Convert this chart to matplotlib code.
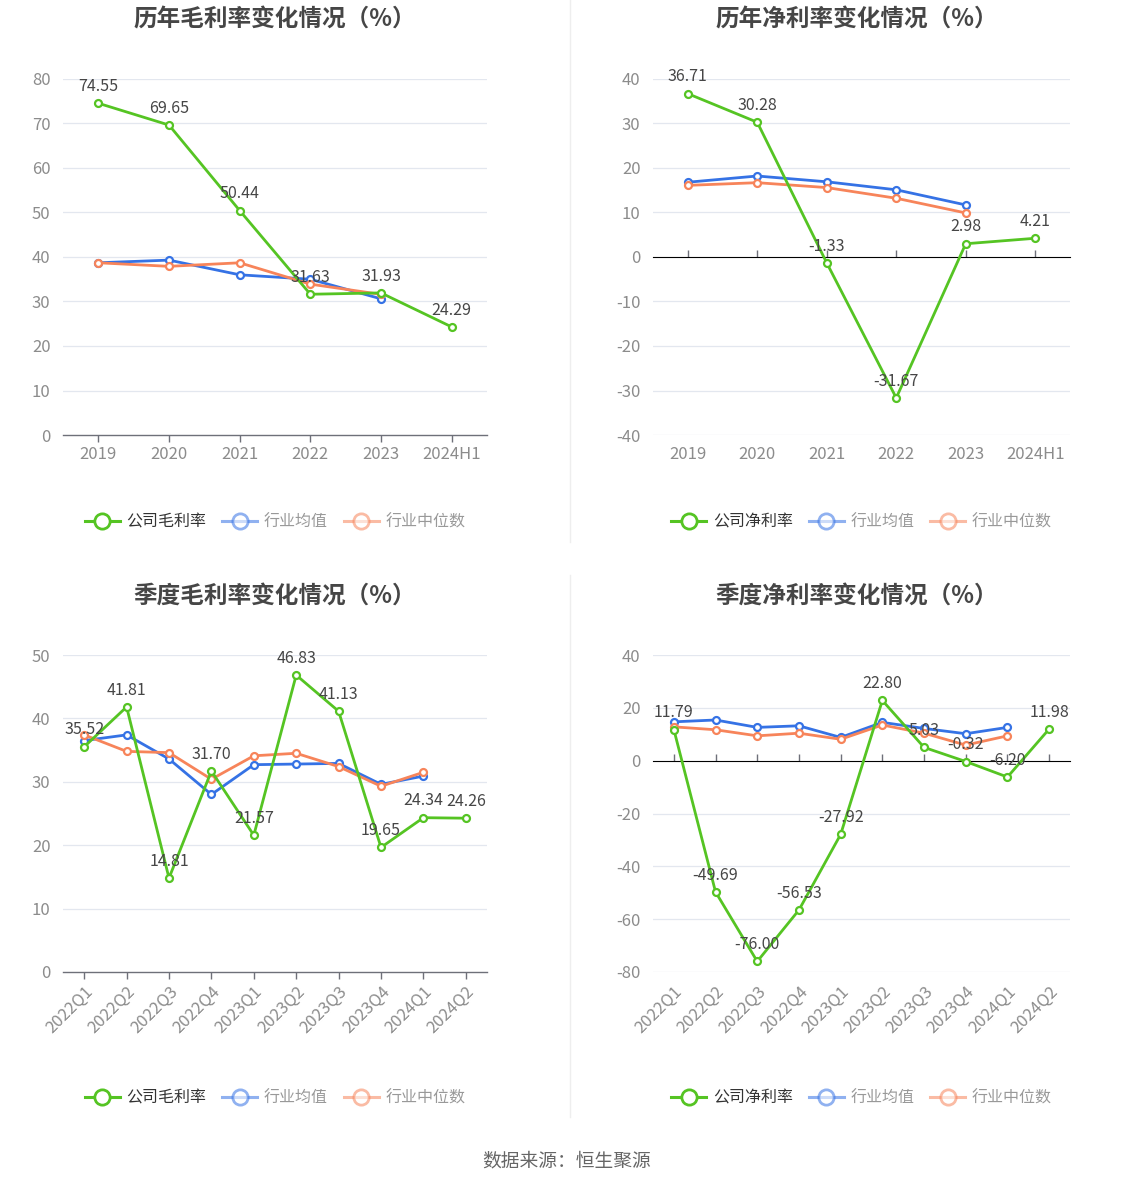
import matplotlib
matplotlib.use("Agg")
import matplotlib.pyplot as plt
from matplotlib.lines import Line2D

plt.rcParams['font.family'] = ['Noto Sans CJK SC', 'DejaVu Sans']

# Data
years = ['2019', '2020', '2021', '2022', '2023', '2024H1']
quarters = ['2022Q1', '2022Q2', '2022Q3', '2022Q4', '2023Q1',
            '2023Q2', '2023Q3', '2023Q4', '2024Q1', '2024Q2']

gross_year_company = [74.55, 69.65, 50.44, 31.63, 31.93, 24.29]
gross_year_avg = [38.7, 39.3, 36.0, 35.0, 30.6]
gross_year_median = [38.7, 37.9, 38.7, 33.9, 31.6]

net_year_company = [36.71, 30.28, -1.33, -31.67, 2.98, 4.21]
net_year_avg = [16.8, 18.2, 16.9, 15.1, 11.7]
net_year_median = [16.1, 16.7, 15.6, 13.2, 9.9]

gross_q_company = [35.52, 41.81, 14.81, 31.70, 21.57, 46.83, 41.13, 19.65, 24.34, 24.26]
gross_q_avg = [36.5, 37.4, 33.6, 28.0, 32.7, 32.8, 32.9, 29.6, 30.9]
gross_q_median = [37.4, 34.8, 34.6, 30.4, 34.1, 34.5, 32.4, 29.3, 31.5]

net_q_company = [11.79, -49.69, -76.00, -56.53, -27.92, 22.80, 5.03, -0.32, -6.20, 11.98]
net_q_avg = [14.7, 15.4, 12.6, 13.2, 8.8, 14.5, 12.2, 10.2, 12.6]
net_q_median = [12.8, 11.7, 9.4, 10.4, 8.1, 13.5, 10.4, 5.9, 9.4]

GREEN = '#55c423'
BLUE = '#3572e5'
ORANGE = '#f7845a'
W, H = 1134, 1188


def px_axes(fig, left, top, right, bottom):
    return fig.add_axes([left / W, 1 - bottom / H, (right - left) / W, (bottom - top) / H])


def draw_panel(ax, cats, company, avg, median, ylim, yticks, company_name, rotate, legend_y):
    x = list(range(len(cats)))
    ax.set_xlim(-0.5, len(cats) - 0.5)
    ax.set_ylim(*ylim)
    ax.set_yticks(yticks)
    ax.set_yticklabels([str(t) for t in yticks])
    for t in yticks:
        if t != 0:
            ax.axhline(t, color='#e3e7ef', lw=0.9, zorder=0)
    for s in ax.spines.values():
        s.set_visible(False)
    ax.tick_params(axis='y', length=0, pad=9, labelsize=12, labelcolor='#8c8c8c')
    ax.tick_params(axis='x', length=0, labelsize=12, labelcolor='#8c8c8c', pad=8)
    ax.set_xticks(x)
    if rotate:
        ax.set_xticklabels(cats, rotation=45, ha='right', rotation_mode='anchor')
    else:
        ax.set_xticklabels(cats)

    # axis line at zero with ticks
    frac = (0 - ylim[0]) / (ylim[1] - ylim[0])
    sec = ax.secondary_xaxis(frac)
    sec.set_xticks(x)
    sec.set_xticklabels([])
    sec.tick_params(axis='x', direction='out', length=5, width=1, color='#6e7079')
    sec.spines['bottom'].set_color('#6e7079')
    sec.spines['bottom'].set_linewidth(1)

    mk = dict(marker='o', markersize=5, markerfacecolor='white', markeredgewidth=1.6)
    ax.plot(x[:len(avg)], avg, color=BLUE, lw=2, zorder=3, **mk)
    ax.plot(x[:len(median)], median, color=ORANGE, lw=2, zorder=4, **mk)
    ax.plot(x, company, color=GREEN, lw=2, zorder=5, **mk)
    for xi, v in zip(x, company):
        ax.annotate(f'{v:.2f}', (xi, v), xytext=(0, 6), textcoords='offset points',
                    ha='center', va='bottom', fontsize=11.5, color='#464646', zorder=6)

    lk = dict(marker='o', markersize=11, markerfacecolor='white', markeredgewidth=2, lw=2.2)
    handles = [Line2D([], [], color=GREEN, **lk),
               Line2D([], [], color=BLUE, alpha=0.55, **lk),
               Line2D([], [], color=ORANGE, alpha=0.55, **lk)]
    leg = ax.legend(handles, [company_name, '行业均值', '行业中位数'], loc='center',
                    bbox_to_anchor=(0.5, legend_y), ncol=3, frameon=False, fontsize=11.5,
                    handlelength=2.2, columnspacing=1.0, handletextpad=0.4)
    for i, t in enumerate(leg.get_texts()):
        t.set_color('#333333' if i == 0 else '#999999')


fig = plt.figure(figsize=(W / 100, H / 100), dpi=100)

ax1 = px_axes(fig, 63, 79, 487, 435)
draw_panel(ax1, years, gross_year_company, gross_year_avg, gross_year_median,
           (0, 80), list(range(0, 81, 10)), '公司毛利率', False, -0.245)
ax2 = px_axes(fig, 653, 79, 1070, 435)
draw_panel(ax2, years, net_year_company, net_year_avg, net_year_median,
           (-40, 40), list(range(-40, 41, 10)), '公司净利率', False, -0.245)
ax3 = px_axes(fig, 63, 655, 487, 972)
draw_panel(ax3, quarters, gross_q_company, gross_q_avg, gross_q_median,
           (0, 50), list(range(0, 51, 10)), '公司毛利率', True, -0.398)
ax4 = px_axes(fig, 653, 655, 1070, 972)
draw_panel(ax4, quarters, net_q_company, net_q_avg, net_q_median,
           (-80, 40), list(range(-80, 41, 20)), '公司净利率', True, -0.398)

title_kw = dict(ha='center', va='center', fontsize=17, fontweight='bold', color='#464646')
fig.text(275 / W, 1 - 20 / H, '历年毛利率变化情况（%）', **title_kw)
fig.text(857 / W, 1 - 20 / H, '历年净利率变化情况（%）', **title_kw)
fig.text(275 / W, 1 - 596 / H, '季度毛利率变化情况（%）', **title_kw)
fig.text(857 / W, 1 - 596 / H, '季度净利率变化情况（%）', **title_kw)

# panel dividers
fig.add_artist(Line2D([570 / W, 570 / W], [1, 1 - 542 / H], color='#eeeeee', lw=1))
fig.add_artist(Line2D([570 / W, 570 / W], [1 - 575 / H, 1 - 1117 / H], color='#eeeeee', lw=1))

fig.text(567 / W, 1 - 1161 / H, '数据来源：恒生聚源', ha='center', va='center',
         fontsize=13.5, color='#666666')

fig.savefig('out.png', dpi=100)
